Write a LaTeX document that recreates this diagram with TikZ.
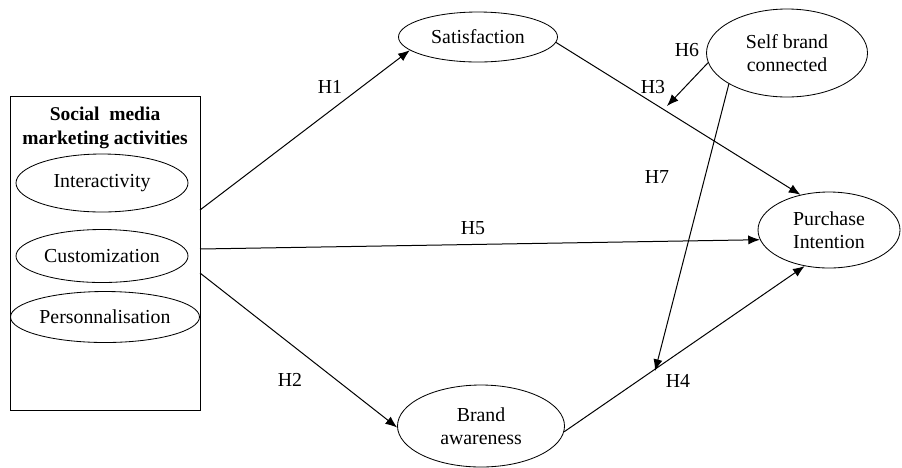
\documentclass[tikz,border=0pt]{standalone}
\usepackage{fontspec}
\setmainfont{Liberation Serif}
\usetikzlibrary{shapes.geometric,arrows.meta}
\tikzset{
  construct/.style={draw,ellipse,inner sep=0pt,align=center,line width=0.5pt},
  hyp/.style={-{Latex[length=7pt,width=5.5pt]},line width=0.6pt},
}
\begin{document}
\begin{tikzpicture}[x=0.6pt,y=-0.6pt,font=\fontsize{11.9}{13.8}\selectfont]
\useasboundingbox (0,0) rectangle (902,467);
% social media marketing activities
\node[draw,line width=0.6pt,minimum width=114pt,minimum height=188.4pt] at (105,253) (smma) {};
\node[align=center,font=\fontsize{11.7}{14.4}\selectfont\bfseries] at (105,128) (title) {Social\ \ media\\marketing activities};
\node[construct,minimum width=103.2pt,minimum height=34.8pt] at (102,183) (int) {Interactivity};
\node[construct,minimum width=103.2pt,minimum height=31.8pt] at (102,256) (cus) {Customization};
\node[construct,minimum width=113.4pt,minimum height=30.6pt] at (105,317) (per) {Personnalisation};
% other constructs
\node[construct,minimum width=95.4pt,minimum height=30pt] at (478,37) (sat) {Satisfaction};
\node[construct,minimum width=96.6pt,minimum height=52.8pt] at (787,53) (sbc) {Self brand\\connected};
\node[construct,minimum width=85.2pt,minimum height=45.6pt] at (829,230) (pi) {Purchase\\Intention};
\node[construct,minimum width=100.2pt,minimum height=49.2pt] at (481,426) (ba) {Brand\\awareness};
% start and end points
\coordinate (h1s) at (200,210);
\coordinate (h5s) at (200,249);
\coordinate (h2s) at (200,273);
\coordinate (h6e) at (667,106);
\coordinate (h7e) at (655,371);
% hypotheses
\draw[hyp] (h1s) -- (sat.191);
\draw[hyp] (h5s) -- (pi.188);
\draw[hyp] (h2s) -- (ba.181);
\draw[hyp] (sat.356) -- (pi.129);
\draw[hyp] (ba.356) -- (pi.236);
\draw[hyp] (sbc.187) -- (h6e);
\draw[hyp] (sbc.208) -- (h7e);
% labels
\node at (330,87) (l1) {H1};
\node at (290,380) (l2) {H2};
\node at (653,87) (l3) {H3};
\node at (678,381) (l4) {H4};
\node at (473,228) (l5) {H5};
\node at (687,50) (l6) {H6};
\node at (657,177) (l7) {H7};
\end{tikzpicture}
\end{document}
